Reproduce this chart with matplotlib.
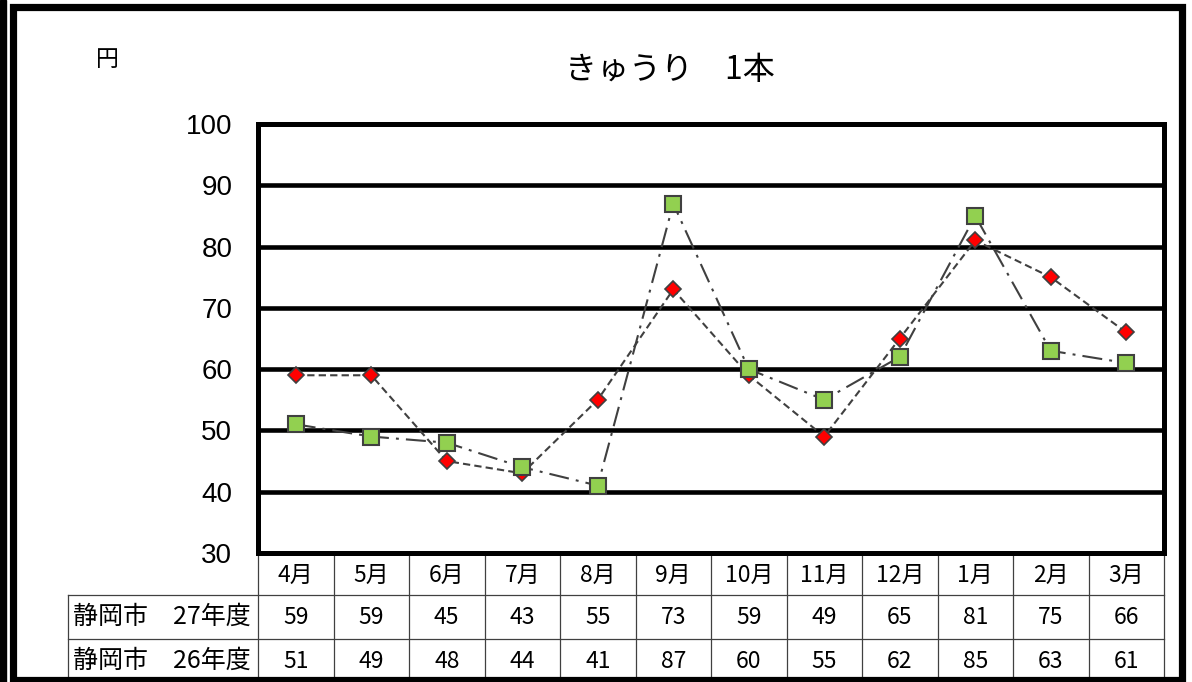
import matplotlib
matplotlib.use("Agg")
import matplotlib.pyplot as plt
from matplotlib.patches import Rectangle
from matplotlib.transforms import blended_transform_factory

plt.rcParams['font.family'] = ['Noto Sans CJK JP', 'DejaVu Sans']

months = ['4月', '5月', '6月', '7月', '8月', '9月', '10月', '11月', '12月', '1月', '2月', '3月']
series_names = ['静岡市　27年度', '静岡市　26年度']
vals_27 = [59, 59, 45, 43, 55, 73, 59, 49, 65, 81, 75, 66]
vals_26 = [51, 49, 48, 44, 41, 87, 60, 55, 62, 85, 63, 61]
yticks = [30, 40, 50, 60, 70, 80, 90, 100]
title = 'きゅうり　1本'
unit = '円'

W, H = 1192, 682
fig = plt.figure(figsize=(W / 100, H / 100), dpi=100)

# plot area in pixels
L, R, T, B = 258, 1164, 124, 553
ax = fig.add_axes([L / W, (H - B) / H, (R - L) / W, (B - T) / H])
ax.set_xlim(0, len(months))
ax.set_ylim(30, 100)

x = [i + 0.5 for i in range(len(months))]

for yv in yticks[1:-1]:
    ax.axhline(yv, color='black', lw=3.3, zorder=1)

ax.plot(x, vals_27, color='#404040', lw=1.5, dashes=(3.5, 2),
        marker='D', ms=8.4, mfc='#FF0000', mec='#404040', mew=1.2, zorder=3)
ax.plot(x, vals_26, color='#404040', lw=1.5, dashes=(9.6, 3.4, 1.4, 3.4),
        marker='s', ms=11.8, mfc='#92D050', mec='#404040', mew=1.5, zorder=4)

for s in ax.spines.values():
    s.set_linewidth(3.6)
    s.set_color('black')
    s.set_zorder(5)

ax.set_xticks([])
ax.set_yticks(yticks)
ax.set_yticklabels([str(v) for v in yticks], fontsize=20, family=['Liberation Sans', 'DejaVu Sans'])
ax.tick_params(axis='y', length=0, pad=18.5)

# data table below the axes
tr = blended_transform_factory(ax.transData, ax.transAxes)
ph = B - T
def yf(py):
    return (B - py) / ph

row_edges = [553, 595, 639, 683]
label_left = (68 - L) / ((R - L) / len(months))
lc = '#404040'
tlw = 0.9
# horizontal lines
for py in row_edges[1:]:
    ax.plot([label_left, len(months)], [yf(py), yf(py)], transform=tr, color=lc, lw=tlw, clip_on=False)
# vertical lines
for i in range(len(months) + 1):
    ax.plot([i, i], [yf(553), yf(683)], transform=tr, color=lc, lw=tlw, clip_on=False)
ax.plot([label_left, label_left], [yf(595), yf(683)], transform=tr, color=lc, lw=tlw, clip_on=False)

fs_tab = 16.5
for i, m in enumerate(months):
    ax.text(x[i], yf(575), m, transform=tr, ha='center', va='center', fontsize=fs_tab, clip_on=False)
for r, (name, vals) in enumerate(zip(series_names, [vals_27, vals_26])):
    yc = yf((row_edges[r + 1] + row_edges[r + 2]) / 2)
    ax.text(label_left + 0.06, yc, name, transform=tr, ha='left', va='center', fontsize=18, clip_on=False)
    for i, v in enumerate(vals):
        ax.text(x[i], yc, str(v), transform=tr, ha='center', va='center', fontsize=fs_tab, clip_on=False)

# titles
fig.text(670 / W, 1 - 70 / H, title, ha='center', va='center', fontsize=23)
fig.text(107 / W, 1 - 59 / H, unit, ha='center', va='center', fontsize=16.5)

# outer frame
fig.patches.append(Rectangle((0, 0), 6 / W, 1, transform=fig.transFigure, color='black', zorder=10))
fig.patches.append(Rectangle((13 / W, 2.5 / H), (1182 - 13) / W, (675.5 - 2.5) / H,
                             transform=fig.transFigure, fill=False, ec='black', lw=5.2, zorder=10))

fig.savefig('out.png', dpi=100)
